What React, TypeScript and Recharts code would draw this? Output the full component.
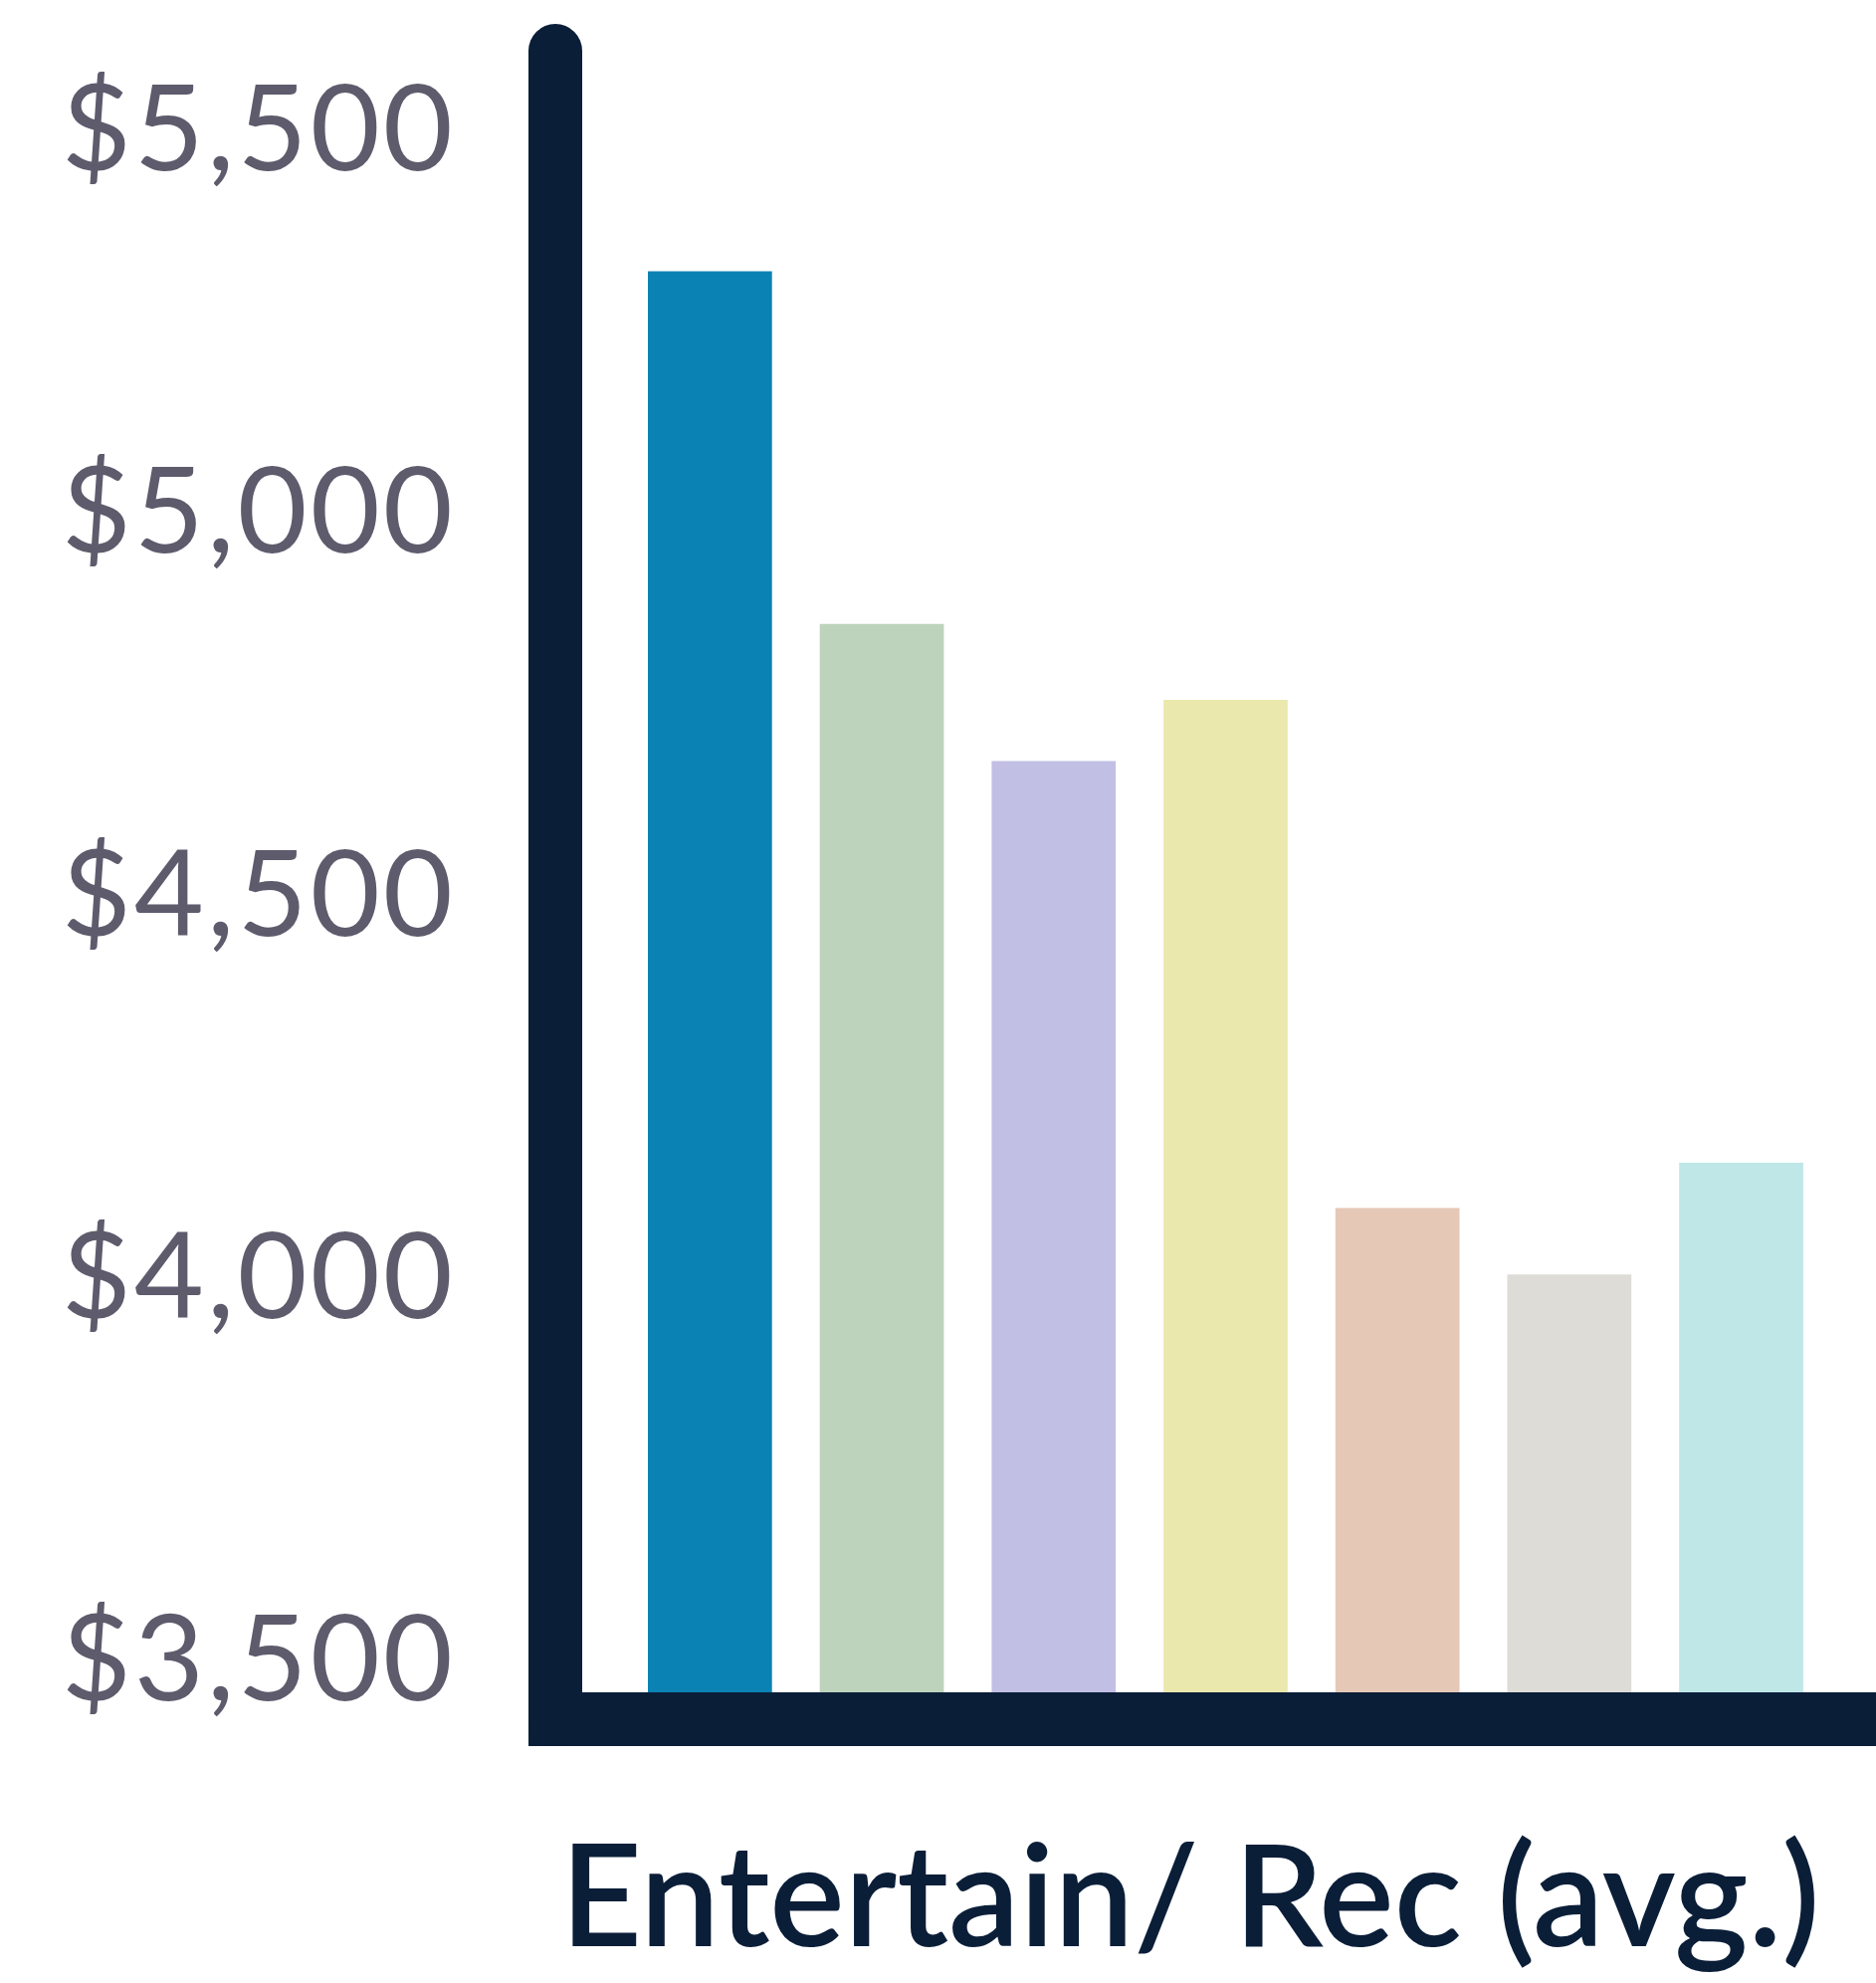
import { BarChart, Bar, XAxis, YAxis } from 'recharts'

const CATEGORIES = ['Entertain/ Rec (avg.)']

const SERIES_KEYS = ['s1', 's2', 's3', 's4', 's5', 's6', 's7']
const SERIES_VALUES = [5312, 4851, 4672, 4752, 4088, 4001, 4147]
const SERIES_COLORS = [
  '#0a82b4',
  '#bed3bb',
  '#c1bfe4',
  '#ebe8ae',
  '#e5c8b5',
  '#dddcd7',
  '#c0e7e7',
]

const Y_TICKS = [3500, 4000, 4500, 5000, 5500]
const Y_DOMAIN: [number, number] = [3420, 5600]

const AXIS_COLOR = '#0b1e38'
const TICK_COLOR = '#5d5b6c'

type Row = { name: string } & Record<string, number | string>

const data: Row[] = CATEGORIES.map(name => {
  const row: Row = { name }
  SERIES_KEYS.forEach((key, i) => {
    row[key] = SERIES_VALUES[i]
  })
  return row
})

function formatDollar(value: number): string {
  return `$${value.toLocaleString('en-US')}`
}

function CategoryTick(props: any) {
  const { x, y, payload } = props
  return (
    <text
      x={x}
      y={y}
      dx={-35}
      dy="0.72em"
      textAnchor="middle"
      fill={AXIS_COLOR}
      fontFamily="Lato, sans-serif"
      fontWeight={600}
      fontSize={142}
    >
      {payload.value}
    </text>
  )
}

export default function App() {
  return (
    <div style={{ position: 'absolute', left: 0, top: 0, width: 1885, height: 1992, background: '#fff', overflow: 'hidden' }}>
      <BarChart
        width={1885}
        height={1992}
        data={data}
        margin={{ top: 51, right: 0, bottom: 0, left: 0 }}
        barSize={124.7}
        barGap={48}
      >
        {SERIES_KEYS.map((key, i) => (
          <Bar
            key={key}
            dataKey={key}
            fill={SERIES_COLORS[i]}
            isAnimationActive={false}
          />
        ))}
        <XAxis
          dataKey="name"
          height={265}
          padding={{ left: 40, right: 21 }}
          tickLine={false}
          tickMargin={120}
          axisLine={{ stroke: AXIS_COLOR, strokeWidth: 54, strokeLinecap: 'square' }}
          tick={<CategoryTick />}
        />
        <YAxis
          width={558}
          domain={Y_DOMAIN}
          ticks={Y_TICKS}
          allowDataOverflow
          tickFormatter={formatDollar}
          tickLine={false}
          tickMargin={94}
          axisLine={{ stroke: AXIS_COLOR, strokeWidth: 54, strokeLinecap: 'round' }}
          tick={{ fill: TICK_COLOR, fontSize: 121, fontFamily: 'Lato, sans-serif', letterSpacing: 3 }}
        />
      </BarChart>
    </div>
  )
}
